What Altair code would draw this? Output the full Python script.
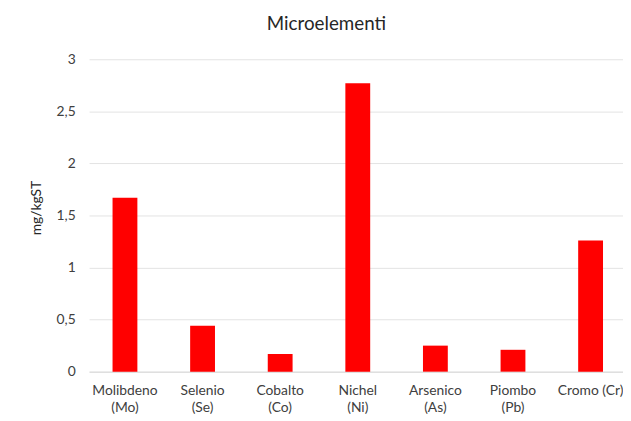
import altair as alt
import pandas as pd

categories = ["Molibdeno|(Mo)", "Selenio|(Se)", "Cobalto|(Co)", "Nichel|(Ni)",
              "Arsenico|(As)", "Piombo|(Pb)", "Cromo (Cr)"]
values = [1.67, 0.44, 0.17, 2.77, 0.25, 0.21, 1.26]
y_ticks = [0, 0.5, 1, 1.5, 2, 2.5, 3]

df = pd.DataFrame({"cat": categories, "val": values})

FONT = "Lato"

chart = alt.Chart(df).mark_bar(color="#ff0000").encode(
    x=alt.X("cat:N", sort=categories,
            scale=alt.Scale(paddingInner=0.68, paddingOuter=0.28, align=0.54),
            axis=alt.Axis(title=None, labelAngle=0, ticks=False,
                          labelExpr="split(datum.value, '|')",
                          labelFont=FONT, labelFontSize=14, labelColor="#404040",
                          labelPadding=12, labelLineHeight=17,
                          domainColor="#d9d9d9", domainWidth=1, grid=False)),
    y=alt.Y("val:Q", scale=alt.Scale(domain=[0, 3], nice=False),
            axis=alt.Axis(values=y_ticks, title="mg/kgST",
                          labelExpr="replace(format(datum.value, '.1~f'), '.', ',')",
                          labelFont=FONT, labelFontSize=14, labelColor="#404040",
                          labelPadding=14, ticks=False, domain=False,
                          grid=True, gridColor="#e3e3e3", gridWidth=1,
                          titleFont=FONT, titleFontSize=14, titleColor="#262626",
                          titleFontWeight="normal", titleAngle=-90,
                          titleX=-53, titleY=150, titleAlign="center",
                          titleBaseline="middle")),
).properties(
    width=540, height=316,
    title=alt.TitleParams("Microelementi", font=FONT, fontSize=19,
                          fontWeight="normal", color="#262626",
                          dx=-30, offset=0, baseline="bottom", frame="group"),
    autosize="none",
    padding={"left": 82, "top": 49.5, "right": 0, "bottom": 40},
).configure_view(stroke=None)

chart.save("out.html", embed_options={"renderer": "svg", "actions": False})
